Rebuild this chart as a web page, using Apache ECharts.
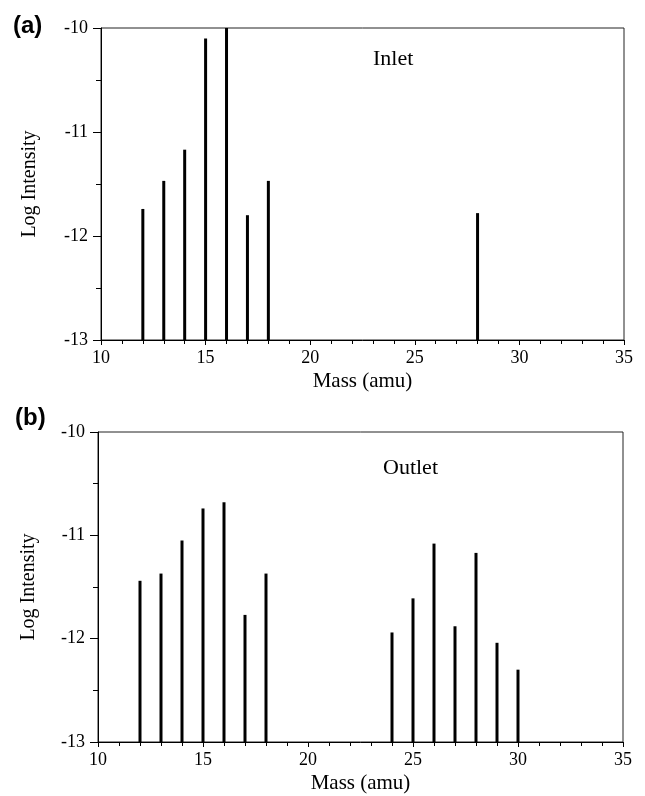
<!DOCTYPE html>
<html>
<head>
<meta charset="utf-8">
<script src="https://cdn.jsdelivr.net/npm/echarts@6/dist/echarts.min.js"></script>
<style>
html,body{margin:0;padding:0;background:#fff;}
#chart{width:645px;height:796px;}
</style>
</head>
<body>
<div id="chart"></div>
<script>
// ---- data ----
const massInlet = [12, 13, 14, 15, 16, 17, 18, 28];
const logInlet = [-11.74, -11.47, -11.17, -10.10, -10.00, -11.80, -11.47, -11.78];
const massOutlet = [12, 13, 14, 15, 16, 17, 18, 24, 25, 26, 27, 28, 29, 30];
const logOutlet = [-11.44, -11.37, -11.05, -10.74, -10.68, -11.77, -11.37, -11.94, -11.61, -11.08, -11.88, -11.17, -12.04, -12.30];
const xRange = [10, 35];      // Mass axis
const xStep = 5;
const yRange = [-13, -10];    // Log Intensity axis
const yStep = 1;
const panelLabels = ['(a)', '(b)'];
const panelNames = ['Inlet', 'Outlet'];
const xTitle = 'Mass (amu)';
const yTitle = 'Log Intensity';

const SERIF = '"Liberation Serif", "Times New Roman", serif';

function pairs(xs, ys) { return xs.map((x, i) => [x, ys[i]]); }

function stick(params, api) {
  const x = api.value(0), y = api.value(1);
  const p0 = api.coord([x, yRange[0]]);
  const p1 = api.coord([x, y]);
  return {
    type: 'line',
    shape: { x1: p0[0], y1: p0[1], x2: p1[0], y2: p1[1] },
    style: { stroke: '#000', lineWidth: 3 }
  };
}

function xAxis(gi, nameGap) {
  return {
    gridIndex: gi, type: 'value', min: xRange[0], max: xRange[1], interval: xStep,
    name: xTitle, nameLocation: 'middle', nameGap: nameGap,
    nameTextStyle: { fontFamily: SERIF, fontSize: 21, color: '#000' },
    axisLine: { show: true, lineStyle: { color: '#000', width: 1 } },
    axisTick: { show: true, inside: false, length: 5, lineStyle: { color: '#000' } },
    minorTick: { show: true, splitNumber: 5, length: 4, lineStyle: { color: '#000' } },
    splitLine: { show: false },
    axisLabel: { fontFamily: SERIF, fontSize: 18, color: '#000', margin: 9 }
  };
}
function yAxis(gi, nameGap) {
  return {
    gridIndex: gi, type: 'value', min: yRange[0], max: yRange[1], interval: yStep,
    name: yTitle, nameLocation: 'middle', nameGap: nameGap, nameRotate: 90,
    nameTextStyle: { fontFamily: SERIF, fontSize: 20, color: '#000' },
    axisLine: { show: true, lineStyle: { color: '#000', width: 1 } },
    axisTick: { show: true, inside: false, length: 8, lineStyle: { color: '#000' } },
    minorTick: { show: true, splitNumber: 2, length: 5, lineStyle: { color: '#000' } },
    splitLine: { show: false },
    axisLabel: { fontFamily: SERIF, fontSize: 18, color: '#000', margin: 13 }
  };
}

const chart = echarts.init(document.getElementById('chart'), null, { renderer: 'canvas' });
chart.setOption({
  backgroundColor: '#fff',
  animation: false,
  grid: [
    { left: 101, top: 28, width: 523, height: 312, show: true, borderColor: '#222', borderWidth: 1, backgroundColor: 'transparent' },
    { left: 98, top: 432, width: 525, height: 310, show: true, borderColor: '#222', borderWidth: 1, backgroundColor: 'transparent' }
  ],
  xAxis: [xAxis(0, 31), xAxis(1, 31)],
  yAxis: [yAxis(0, 61), yAxis(1, 59)],
  series: [
    { type: 'custom', xAxisIndex: 0, yAxisIndex: 0, renderItem: stick, data: pairs(massInlet, logInlet), clip: false },
    { type: 'custom', xAxisIndex: 1, yAxisIndex: 1, renderItem: stick, data: pairs(massOutlet, logOutlet), clip: false }
  ],
  graphic: [
    { type: 'text', left: 13, top: 14, style: { text: panelLabels[0], font: 'bold 24px "Liberation Sans", Arial, sans-serif', fill: '#000' } },
    { type: 'text', left: 15, top: 406, style: { text: panelLabels[1], font: 'bold 24px "Liberation Sans", Arial, sans-serif', fill: '#000' } },
    { type: 'text', left: 373, top: 48, style: { text: panelNames[0], font: '22px ' + SERIF, fill: '#000' } },
    { type: 'text', left: 383, top: 457, style: { text: panelNames[1], font: '22px ' + SERIF, fill: '#000' } }
  ]
});
</script>
</body>
</html>
